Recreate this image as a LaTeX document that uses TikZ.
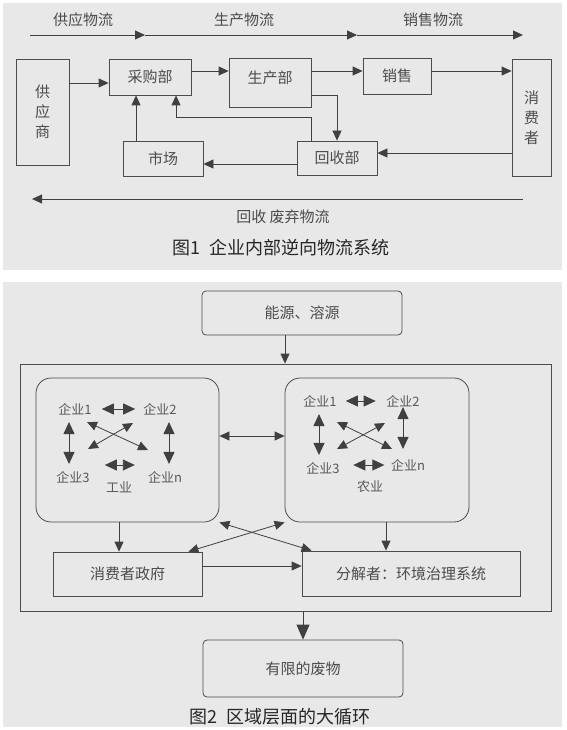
\documentclass[tikz,border=0pt]{standalone}
\usepackage{fontspec}
\setmainfont{Noto Sans CJK SC}
\usetikzlibrary{arrows.meta}
\tikzstyle{block} = [rectangle, draw=black!70, fill=black!9, text=black!70, line width=0.8pt, inner sep=0pt, font=\fontsize{15}{20}\selectfont]
\tikzstyle{rblock} = [block, rounded corners=4pt]
\tikzstyle{group} = [rectangle, draw=black!70, line width=0.8pt, rounded corners=15pt]
\tikzstyle{flow} = [text=black!70, inner sep=0pt, font=\fontsize{15}{18}\selectfont]
\tikzstyle{firm} = [text=black!65, inner sep=2pt, font=\fontsize{13}{15}\selectfont]
\tikzstyle{caption} = [text=black!85, inner sep=0pt, font=\fontsize{18}{20}\selectfont]
\tikzstyle{arr} = [draw=black!75, line width=0.8pt, -{Triangle[length=10pt,width=9pt]}]
\tikzstyle{dbl} = [draw=black!75, line width=0.8pt, {Triangle[length=10pt,width=9pt]}-{Triangle[length=10pt,width=9pt]}]
\tikzstyle{big} = [draw=black!75, line width=0.9pt, {Triangle[length=12pt,width=11pt]}-{Triangle[length=12pt,width=11pt]}]

\begin{document}
\begin{tikzpicture}[x=1pt,y=-1pt]
   \useasboundingbox (0,0) rectangle (566,730);
   \fill[black!9] (3,3) rectangle (562,270);
   \fill[black!9] (3,282) rectangle (562,727);

   \node[block, minimum width=53pt, minimum height=106pt, align=center] (a) at (42.5,112) {供\\应\\商};
   \node[block, minimum width=82pt, minimum height=36pt] (b) at (150,77) {采购部};
   \node[block, minimum width=82pt, minimum height=49pt, text depth=11pt] (c) at (270,82.5) {生产部};
   \node[block, minimum width=68pt, minimum height=36pt] (d) at (397,76) {销售};
   \node[block, minimum width=39pt, minimum height=117pt, align=center] (e) at (531.5,118) {消\\费\\者};
   \node[block, minimum width=80pt, minimum height=35pt] (f) at (163,158.5) {市场};
   \node[block, minimum width=80pt, minimum height=34pt] (g) at (337,158) {回收部};
   \draw[arr] ([yshift=-6pt]b.west -| a.east) -- ([yshift=-6pt]b.west);
   \draw[arr] ([yshift=6pt]b.east) -- ([yshift=6pt]b.east -| c.west);
   \draw[arr] ([yshift=5pt]d.west -| c.east) -- ([yshift=5pt]d.west);
   \draw[arr] ([yshift=5pt]d.east) -- ([yshift=5pt]d.east -| e.west);
   \draw[arr] ([xshift=-27pt]f.north) -- ([xshift=-27pt]f.north |- b.south);
   \draw[arr] ([xshift=-26pt]g.north) -- ++(0,-23) -| ([xshift=26pt]b.south);
   \draw[arr] ([yshift=-12.5pt]c.east) -| (g.north);
   \draw[arr] ([yshift=5pt]g.east -| e.west) -- ([yshift=5pt]g.east);
   \draw[arr] ([yshift=-6pt]g.west) -- ([yshift=-6pt]g.west -| f.east);

   \coordinate (s1) at (30,35);
   \coordinate (s2) at (145,35);
   \coordinate (s3) at (357,35);
   \coordinate (s4) at (523,35);
   \draw[arr] (s1) -- (s2);
   \draw[arr] (s2) -- (s3);
   \draw[arr] (s3) -- (s4);
   \node[flow] (t1) at (83,20) {供应物流};
   \node[flow] (t2) at (244,20) {生产物流};
   \node[flow] (t3) at (433,20) {销售物流};
   \coordinate (r1) at (523,199);
   \coordinate (r2) at (32,199);
   \draw[arr] (r1) -- (r2);
   \node[flow] (t4) at (283,217) {回收 废弃物流};
   \node[caption] (t5) at (281,248) {图1\ \ 企业内部逆向物流系统};

   \node[rblock, minimum width=200pt, minimum height=44pt] (h) at (302,313) {能源、溶源};
   \node[rectangle, draw=black!70, line width=0.8pt, minimum width=531pt, minimum height=247pt] (i) at (285.5,487.5) {};
   \node[group, minimum width=183pt, minimum height=144pt] (j) at (127.5,450) {};
   \node[group, minimum width=184pt, minimum height=144pt] (k) at (377,450) {};
   \node[block, minimum width=149pt, minimum height=44pt] (l) at (127.5,574) {消费者政府};
   \node[block, minimum width=218pt, minimum height=45pt] (m) at (411,573.5) {分解者：环境治理系统};
   \node[rblock, minimum width=200pt, minimum height=57pt] (n) at (303,668.5) {有限的废物};
   \node[caption] (o) at (280,717) {图2\ \ 区域层面的大循环};
   \draw[arr] ([xshift=-17pt]h.south) -- ([xshift=-17pt]h.south |- i.north);
   \draw[dbl] ([yshift=14pt]j.east) -- ([yshift=14pt]j.east -| k.west);
   \draw[arr] ([xshift=-8.5pt]j.south) -- ([xshift=-8.5pt]j.south |- l.north);
   \draw[arr] ([xshift=9pt]k.south) -- ([xshift=9pt]k.south |- m.north);
   \draw[dbl] (j.south east) -- ([xshift=10pt]m.north west);
   \draw[dbl] (k.south west) -- ([xshift=-14pt]l.north east);
   \draw[arr] ([yshift=8pt]l.east) -- ([yshift=8pt]l.east -| m.west);
   \draw[draw=black!75, line width=0.8pt, -{Triangle[length=15pt,width=13pt]}] (n.north |- i.south) -- (n.north);

   \node[firm] (p1) at (75,409) {企业1};
   \node[firm] (p2) at (160,409) {企业2};
   \node[firm] (p3) at (73,477) {企业3};
   \node[firm] (p4) at (165,477) {企业n};
   \node[firm] (p5) at (119,487) {工业};
   \draw[big] ([xshift=8pt]p1.east) -- ([xshift=-6pt]p2.west);
   \draw[big, shorten <=5pt, shorten >=5pt] ([xshift=-6pt]p1.south) -- ([xshift=-6pt]p1.south |- p3.north);
   \draw[big, shorten <=5pt, shorten >=5pt] ([xshift=9pt]p2.south) -- ([xshift=9pt]p2.south |- p4.north);
   \draw[dbl] ([xshift=12pt,yshift=-13pt]p1.center) -- ([xshift=-17pt,yshift=27pt]p4.center);
   \draw[dbl] ([xshift=-27pt,yshift=-14pt]p2.center) -- ([xshift=15pt,yshift=28pt]p3.center);
   \draw[big] ([xshift=13pt,yshift=12pt]p3.east) -- ([xshift=-11pt,yshift=12pt]p4.west);

   \node[firm] (q1) at (320,401) {企业1};
   \node[firm] (q2) at (403,401) {企业2};
   \node[firm] (q3) at (323,468) {企业3};
   \node[firm] (q4) at (408,465) {企业n};
   \node[firm] (q5) at (370,487) {农业};
   \draw[big] ([xshift=7pt]q1.east) -- ([xshift=-8.5pt]q2.west);
   \draw[big, shorten <=5pt, shorten >=5pt] ([xshift=-1pt]q1.south) -- ([xshift=-1pt]q1.south |- q3.north);
   \draw[big, shorten <=-2pt, shorten >=8pt] (q2.south) -- (q2.south |- q4.north);
   \draw[dbl] ([xshift=17pt,yshift=-21pt]q1.center) -- ([xshift=-16pt,yshift=16pt]q4.center);
   \draw[dbl] ([xshift=-18pt,yshift=-22pt]q2.center) -- ([xshift=14pt,yshift=19pt]q3.center);
   \draw[big] ([xshift=11.5pt,yshift=3pt]q3.east) -- ([xshift=-4.5pt]q4.west);
\end{tikzpicture}
\end{document}
